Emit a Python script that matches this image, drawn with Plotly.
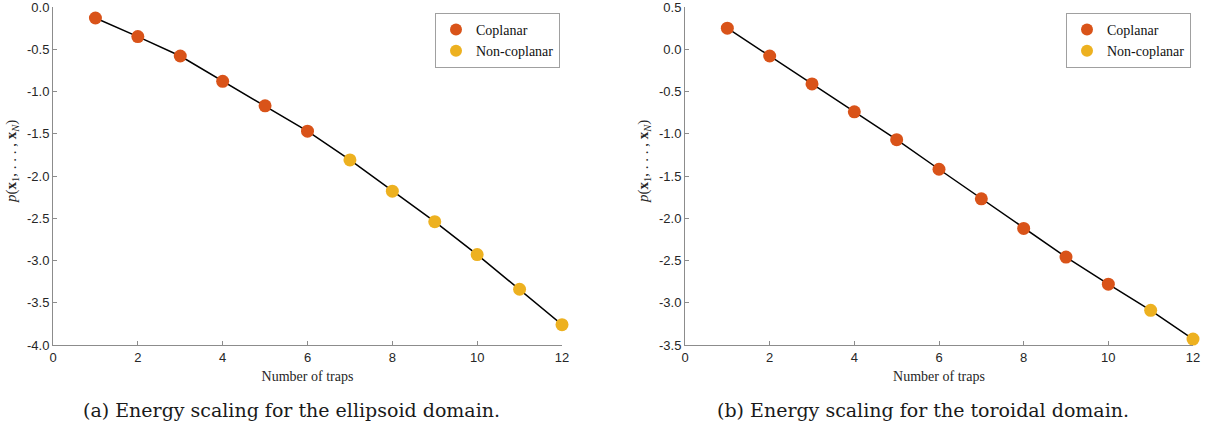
import plotly.graph_objects as go

# ---- data ----
traps = [1, 2, 3, 4, 5, 6, 7, 8, 9, 10, 11, 12]
ellipsoid_energy = [-0.13, -0.35, -0.58, -0.88, -1.17, -1.47, -1.81, -2.18, -2.54, -2.93, -3.34, -3.76]
ellipsoid_type = ["Coplanar"] * 6 + ["Non-coplanar"] * 6
toroidal_energy = [0.25, -0.08, -0.41, -0.74, -1.07, -1.42, -1.77, -2.12, -2.46, -2.78, -3.09, -3.43]
toroidal_type = ["Coplanar"] * 10 + ["Non-coplanar"] * 2
x_ticks = [0, 2, 4, 6, 8, 10, 12]
left_yticks = [0.0, -0.5, -1.0, -1.5, -2.0, -2.5, -3.0, -3.5, -4.0]
right_yticks = [0.5, 0.0, -0.5, -1.0, -1.5, -2.0, -2.5, -3.0, -3.5]
captions = ["(a) Energy scaling for the ellipsoid domain.",
            "(b) Energy scaling for the toroidal domain."]

colors = {"Coplanar": "#D95319", "Non-coplanar": "#EDB120"}
W, H = 1210, 425

fig = go.Figure()

panels = [
    (ellipsoid_energy, ellipsoid_type, "x", "y", "legend"),
    (toroidal_energy, toroidal_type, "x2", "y2", "legend2"),
]
for energy, types, xa, ya, lg in panels:
    fig.add_trace(go.Scatter(x=traps, y=energy, mode="lines",
                             line=dict(color="black", width=1.5),
                             xaxis=xa, yaxis=ya, showlegend=False,
                             cliponaxis=False, hoverinfo="skip"))
    for cat in ["Coplanar", "Non-coplanar"]:
        xs = [t for t, c in zip(traps, types) if c == cat]
        ys = [e for e, c in zip(energy, types) if c == cat]
        fig.add_trace(go.Scatter(x=xs, y=ys, mode="markers", name=cat,
                                 marker=dict(color=colors[cat], size=13,
                                             line=dict(width=0)),
                                 xaxis=xa, yaxis=ya, legend=lg,
                                 cliponaxis=False))

ydom = [1 - 345 / H, 1 - 7 / H]
serif = "Liberation Serif"
sans = "Liberation Sans"
ytitle = "<i>p</i>(<b>x</b><sub>1</sub>, . . . , <b>x</b><sub><i>N</i></sub>)"


def fmt(v):
    return f"{v:.1f}"


axis_common = dict(showline=True, linecolor="#8c8c8c", linewidth=1,
                   ticks="inside", ticklen=4, tickcolor="#8c8c8c",
                   showgrid=False, zeroline=False, mirror=False,
                   ticklabeloverflow="allow", automargin=False,
                   tickfont=dict(family=sans, size=13, color="#262626"))
xtitle = dict(text="Number of traps", standoff=7,
              font=dict(family=serif, size=14, color="#262626"))

legend_common = dict(yanchor="top", y=1 - 13 / H, xanchor="right",
                     bgcolor="white", bordercolor="#a0a0a0", borderwidth=1,
                     font=dict(family=serif, size=14, color="#111"),
                     itemsizing="constant", itemwidth=30, tracegroupgap=0)

fig.update_layout(
    width=W, height=H, margin=dict(l=0, r=0, t=0, b=0, autoexpand=False),
    plot_bgcolor="white", paper_bgcolor="white",
    xaxis=dict(domain=[53 / W, 562 / W], range=[0, 12], tickvals=x_ticks,
               anchor="y", title=xtitle, **axis_common),
    yaxis=dict(domain=ydom, range=[-4, 0], tickvals=left_yticks,
               ticktext=[fmt(v) for v in left_yticks], anchor="x",
               **axis_common),
    xaxis2=dict(domain=[685 / W, 1193 / W], range=[0, 12], tickvals=x_ticks,
                anchor="y2", title=xtitle, **axis_common),
    yaxis2=dict(domain=ydom, range=[-3.5, 0.5], tickvals=right_yticks,
                ticktext=[fmt(v) for v in right_yticks], anchor="x2",
                **axis_common),
    legend=dict(x=560 / W, **legend_common),
    legend2=dict(x=1191 / W, **legend_common),
)

# y-axis titles
for cx in [12, 644]:
    fig.add_annotation(x=cx / W, y=1 - 162 / H, xref="paper", yref="paper",
                       text=ytitle, textangle=-90, showarrow=False,
                       xanchor="center", yanchor="middle",
                       font=dict(family=serif, size=15, color="#262626"))

# captions
for cx, text in zip([291, 923], captions):
    fig.add_annotation(x=cx / W, y=1 - 410 / H, xref="paper", yref="paper",
                       text=text, showarrow=False, xanchor="center",
                       yanchor="middle",
                       font=dict(family="DejaVu Serif", size=19, color="#1a1a1a"))

fig.write_html("out.html")
